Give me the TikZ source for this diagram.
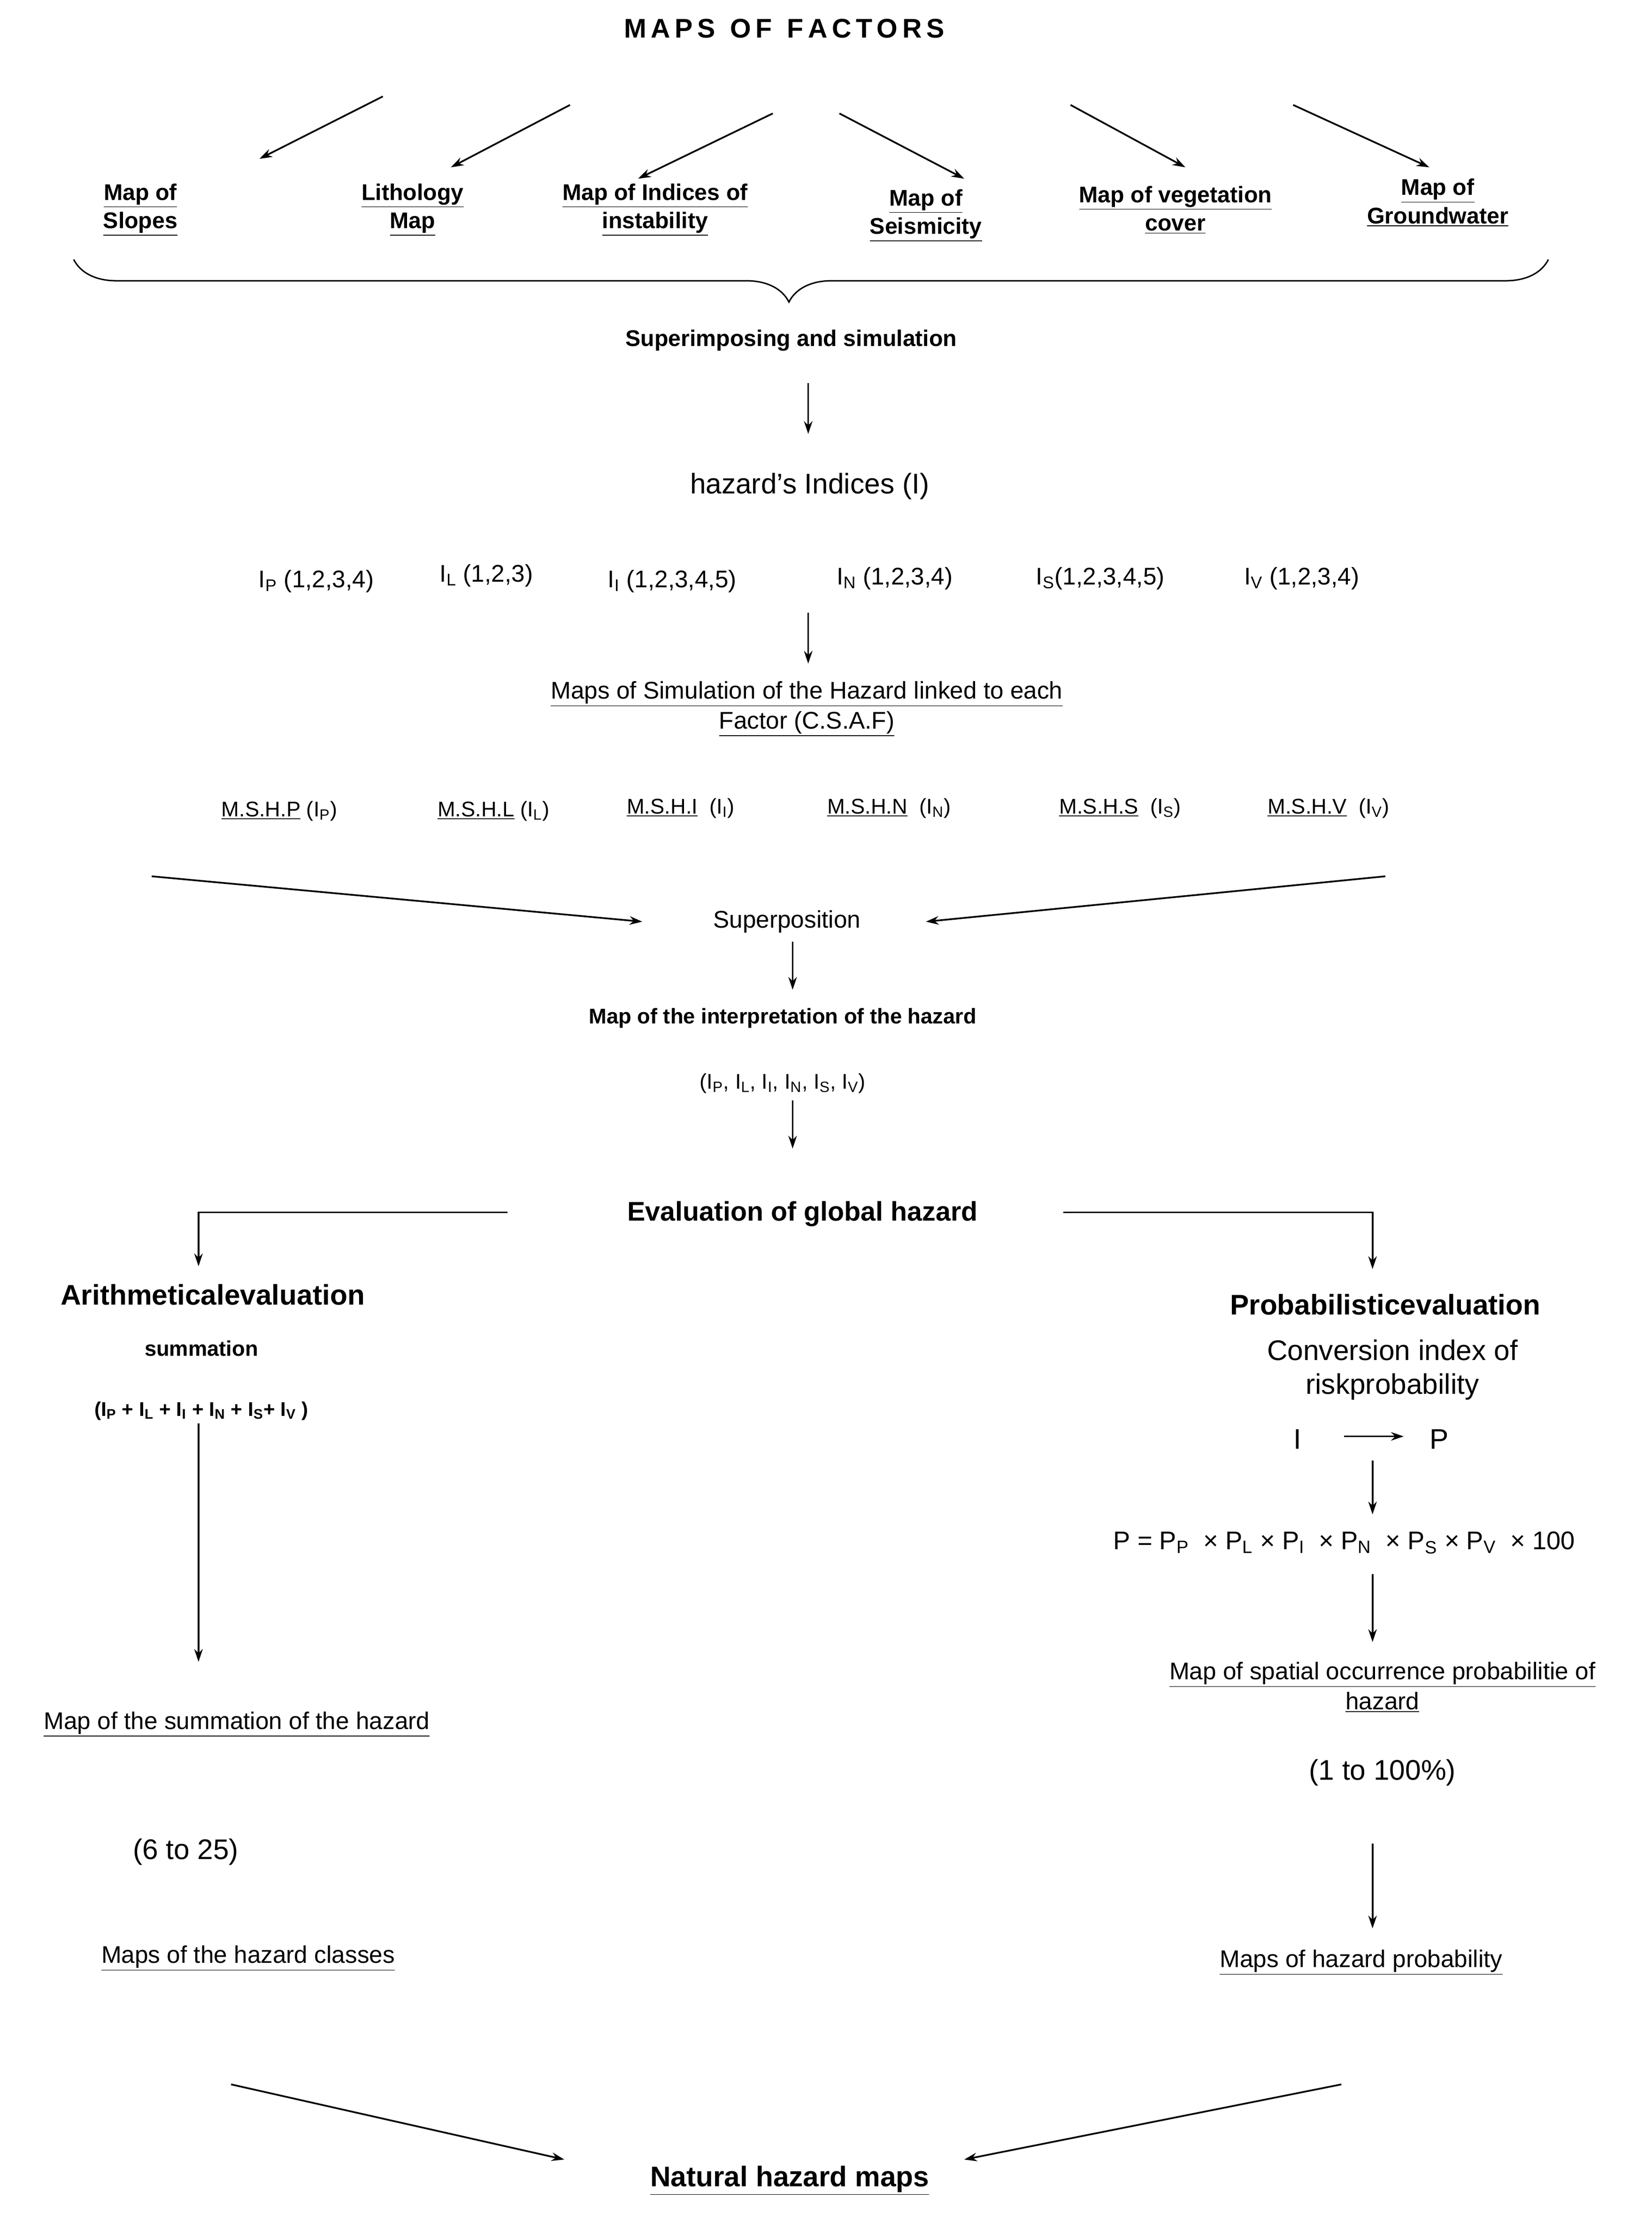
\documentclass[tikz,border=0pt]{standalone}
\usepackage{fontspec}
\setmainfont{Liberation Sans}
\usetikzlibrary{decorations.pathreplacing,arrows.meta}
\newcommand{\myul}[1]{\underline{#1}}
\newcommand{\sbs}[1]{\textsubscript{#1}}
\begin{document}
\begin{tikzpicture}[x=1pt,y=-1pt,
  every node/.style={inner sep=1pt,align=center},
  t/.style={font=\fontsize{17}{21}\selectfont},
  tb/.style={font=\fontsize{16}{20}\selectfont\bfseries},
  sm/.style={font=\fontsize{15}{19}\selectfont},
  big/.style={font=\fontsize{20}{24}\selectfont},
  bigb/.style={font=\fontsize{20}{24}\selectfont\bfseries},
  ar/.style={-{Stealth[length=9pt,width=6pt]},line width=1.2pt}]
\useasboundingbox (0,0) rectangle (1165,1572);
\node[font=\fontsize{19}{22}\selectfont\bfseries] (title) at (553,20) {M\,A\,P\,S\ \ O\,F\ \ F\,A\,C\,T\,O\,R\,S};
\foreach \a/\b/\c/\d [count=\i] in {270/68/183/112,402/74/318/118,545/80/450/126,592/80/680/126,755/74/836/118,912/74/1008/118}
  {\coordinate (s\i) at (\a,\b); \coordinate (e\i) at (\c,\d); \draw[ar] (s\i) -- (e\i);}
\node[tb] (f1) at (99,148) {\myul{Map of}\\\myul{Slopes}};
\node[tb] (f2) at (291,148) {\myul{Lithology}\\\myul{Map}};
\node[tb] (f3) at (462,148) {\myul{Map of Indices of}\\\myul{instability}};
\node[tb] (f4) at (653,152) {\myul{Map of}\\\myul{Seismicity}};
\node[tb] (f5) at (829,148) {\myul{Map of vegetation}\\\myul{cover}};
\node[tb] (f6) at (1014,143) {\myul{Map of}\\\myul{Groundwater}};
\coordinate (bl) at (52,183); \coordinate (br) at (1092,183);
\draw[line width=1pt,decorate,decoration={brace,mirror,amplitude=30pt,aspect=0.485}] (bl) -- (br);
\node[tb] (sup) at (558,240) {Superimposing and simulation};
\node[big] (hi) at (571,343) {hazard’s Indices (I)};
\coordinate (a1) at (570,270); \draw[ar] (a1) -- (570,306);
\node[t] (i1) at (223,410) {I\sbs{P} (1,2,3,4)};
\node[t] (i2) at (343,406) {I\sbs{L} (1,2,3)};
\node[t] (i3) at (474,410) {I\sbs{I} (1,2,3,4,5)};
\node[t] (i4) at (631,408) {I\sbs{N} (1,2,3,4)};
\node[t] (i5) at (776,408) {I\sbs{S}(1,2,3,4,5)};
\node[t] (i6) at (918,408) {I\sbs{V} (1,2,3,4)};
\node[t] (msim) at (569,500) {\myul{Maps of Simulation of the Hazard linked to each}\\\myul{Factor (C.S.A.F)}};
\coordinate (a2) at (570,432); \draw[ar] (a2) -- (570,468);
\node[sm] (m1) at (197,572) {\myul{M.S.H.P} (I\sbs{P})};
\node[sm] (m2) at (348,572) {\myul{M.S.H.L} (I\sbs{L})};
\node[sm] (m3) at (480,570) {\myul{M.S.H.I} \ (I\sbs{I})};
\node[sm] (m4) at (627,570) {\myul{M.S.H.N} \ (I\sbs{N})};
\node[sm] (m5) at (790,570) {\myul{M.S.H.S} \ (I\sbs{S})};
\node[sm] (m6) at (937,570) {\myul{M.S.H.V} \ (I\sbs{V})};
\node[t] (spos) at (555,650) {Superposition};
\coordinate (l1) at (107,618); \coordinate (r1) at (977,618);
\draw[ar] (l1) -- (453,650); \draw[ar] (r1) -- (653,650);
\node[font=\fontsize{15}{19}\selectfont\bfseries] (interp) at (552,718) {Map of the interpretation of the hazard};
\coordinate (a3) at (559,664); \draw[ar] (a3) -- (559,698);
\node[sm] (ilist) at (552,764) {(I\sbs{P}, I\sbs{L}, I\sbs{I}, I\sbs{N}, I\sbs{S}, I\sbs{V})};
\node[font=\fontsize{19}{23}\selectfont\bfseries] (eval) at (566,856) {Evaluation of global hazard};
\coordinate (a4) at (559,776); \draw[ar] (a4) -- (559,810);
\coordinate (al) at (358,855); \coordinate (ar) at (750,855);
\node[bigb] (arith) at (150,913) {Arithmeticalevaluation};
\node[bigb] (prob) at (977,920) {Probabilisticevaluation};
\draw[ar] (al) -- (140,855) -- (140,893);
\draw[ar] (ar) -- (968,855) -- (968,895);
\node[font=\fontsize{15}{19}\selectfont\bfseries] (summ) at (142,951) {summation};
\node[font=\fontsize{14}{18}\selectfont\bfseries] (sumf) at (142,995) {(I\sbs{P} + I\sbs{L} + I\sbs{I} + I\sbs{N} + I\sbs{S}+ I\sbs{V} )};
\node[t] (msum) at (167,1216) {\myul{Map of the summation of the hazard}};
\coordinate (a5) at (140,1004); \draw[ar] (a5) -- (140,1172);
\node[big] (r625) at (131,1306) {(6 to 25)};
\node[t] (mcls) at (175,1381) {\myul{Maps of the hazard classes}};
\node[big] (conv) at (982,966) {Conversion index of\\riskprobability};
\node[big] (iI) at (915,1015) {I};
\node[big] (iP) at (1015,1015) {P};
\coordinate (ia) at (948,1013); \draw[ar] (ia) -- (990,1013);
\node[font=\fontsize{18}{22}\selectfont] (pform) at (948,1088) {P = P\sbs{P} \ × P\sbs{L} × P\sbs{I} \ × P\sbs{N} \ × P\sbs{S} × P\sbs{V} \ × 100};
\coordinate (a6) at (968,1030); \draw[ar] (a6) -- (968,1068);
\node[t] (mspat) at (975,1190) {\myul{Map of spatial occurrence probabilitie of}\\\myul{hazard}};
\coordinate (a7) at (968,1110); \draw[ar] (a7) -- (968,1158);
\node[big] (r100) at (975,1250) {(1 to 100\%)};
\node[t] (mprob) at (960,1384) {\myul{Maps of hazard probability}};
\coordinate (a8) at (968,1300); \draw[ar] (a8) -- (968,1360);
\node[bigb] (nat) at (557,1538) {\myul{Natural hazard maps}};
\coordinate (l2) at (163,1470); \coordinate (r2) at (946,1470);
\draw[ar] (l2) -- (398,1523); \draw[ar] (r2) -- (680,1523);
\end{tikzpicture}
\end{document}
